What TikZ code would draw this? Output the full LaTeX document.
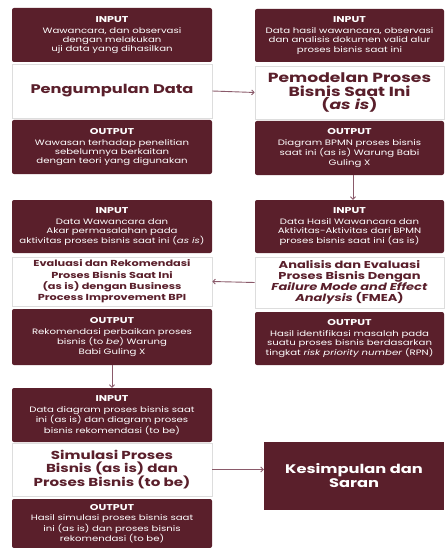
\documentclass[tikz,border=0pt]{standalone}
\usepackage{fontspec}
\setmainfont{Poppins}[FakeStretch=1.3]
\usetikzlibrary{arrows.meta}
\definecolor{maroon}{HTML}{5A1F2B}
\definecolor{arrowc}{HTML}{8A5A6A}
\definecolor{lightb}{HTML}{DDDDDD}
\newcommand{\hd}[1]{{\fontsize{8.5}{10}\selectfont\bfseries #1}\\[1.5pt]}
\begin{document}
\begin{tikzpicture}[x=1pt,y=-1pt,
  darkbox/.style={fill=maroon, text=white, rounded corners=2pt, inner sep=0pt, align=center,
    font=\fontsize{7.8}{9.3}\selectfont},
  mainbox/.style={fill=white, draw=lightb, line width=0.6pt, inner sep=0pt, align=center, text=maroon},
  conn/.style={draw=arrowc, line width=0.9pt, -{Straight Barb[length=2.5pt,width=5pt]}}]
\useasboundingbox (0,0) rectangle (444,548);
% stage 1 (left)
\node[darkbox, minimum width=200, minimum height=54] (in1) at (112,35)
  {\hd{INPUT}Wawancara, dan observasi\\dengan melakukan\\uji data yang dihasilkan};
\node[mainbox, minimum width=200, minimum height=54, font=\fontsize{12.5}{15}\selectfont\bfseries] (m1) at (112,91)
  {Pengumpulan Data};
\node[darkbox, minimum width=200, minimum height=54] (out1) at (112,147)
  {\hd{OUTPUT}Wawasan terhadap penelitian\\sebelumnya berkaitan\\dengan teori yang digunakan};
% stage 2 (right)
\node[darkbox, minimum width=189, minimum height=53] (in2) at (349.5,35.5)
  {\hd{INPUT}Data hasil wawancara, observasi\\dan analisis dokumen valid alur\\proses bisnis saat ini};
\node[mainbox, minimum width=189, minimum height=53, font=\fontsize{13.2}{13.3}\selectfont\bfseries] (m2) at (349.5,92.5)
  {Pemodelan Proses\\Bisnis Saat Ini\\(\textit{as is})};
\node[darkbox, minimum width=189, minimum height=54] (out2) at (349.5,148)
  {\hd{OUTPUT}Diagram BPMN proses bisnis\\saat ini (as is) Warung Babi\\Guling X};
% stage 3 (right)
\node[darkbox, minimum width=189, minimum height=53] (in3) at (349.5,226.5)
  {\hd{INPUT}Data Hasil Wawancara dan\\Aktivitas-Aktivitas dari BPMN\\proses bisnis saat ini (as is)};
\node[mainbox, minimum width=189, minimum height=51, font=\fontsize{10}{11.1}\selectfont\bfseries] (m3) at (349.5,282.5)
  {Analisis dan Evaluasi\\Proses Bisnis Dengan\\\textit{Failure Mode and Effect}\\\textit{Analysis} (FMEA)};
\node[darkbox, minimum width=189, minimum height=53] (out3) at (349.5,338.5)
  {\hd{OUTPUT}Hasil identifikasi masalah pada\\suatu proses bisnis berdasarkan\\tingkat \textit{risk priority number} (RPN)};
% stage 4 (left)
\node[darkbox, minimum width=200, minimum height=53] (in4) at (112,226.5)
  {\hd{INPUT}Data Wawancara dan\\Akar permasalahan pada\\aktivitas proses bisnis saat ini (\textit{as is})};
\node[mainbox, minimum width=200, minimum height=49, font=\fontsize{8.7}{11.4}\selectfont\bfseries] (m4) at (112,281.5)
  {Evaluasi dan Rekomendasi\\Proses Bisnis Saat Ini\\(as is) dengan Business\\Process Improvement BPI};
\node[darkbox, minimum width=200, minimum height=56] (out4) at (112,337)
  {\hd{OUTPUT}Rekomendasi perbaikan proses\\bisnis (to \textit{be}) Warung\\Babi Guling X};
% stage 5 (left)
\node[darkbox, minimum width=200, minimum height=54] (in5) at (112,415)
  {\hd{INPUT}Data diagram proses bisnis saat\\ini (as is) dan diagram proses\\bisnis rekomendasi (to be)};
\node[mainbox, minimum width=200, minimum height=53, font=\fontsize{11.6}{12.5}\selectfont\bfseries] (m5) at (112,469.5)
  {Simulasi Proses\\Bisnis (as is) dan\\Proses Bisnis (to be)};
\node[darkbox, minimum width=200, minimum height=49] (out5) at (112,523.5)
  {\hd{OUTPUT}Hasil simulasi proses bisnis saat\\ini (as is) dan proses bisnis\\rekomendasi (to be)};
% conclusion
\node[darkbox, rounded corners=0pt, minimum width=180, minimum height=68, font=\fontsize{12.5}{14}\selectfont\bfseries] (k) at (354,476)
  {Kesimpulan dan\\Saran};
% connectors
\draw[conn] (m1.east) -- (m2.west);
\draw[conn] ([xshift=3.5]out2.south) -- ([xshift=3.5]in3.north);
\draw[conn] (m3.west) -- (m4.east);
\draw[conn] (out4.south) -- (in5.north);
\draw[conn] (m5.east) -- (m5.east -| k.west);
\end{tikzpicture}
\end{document}
